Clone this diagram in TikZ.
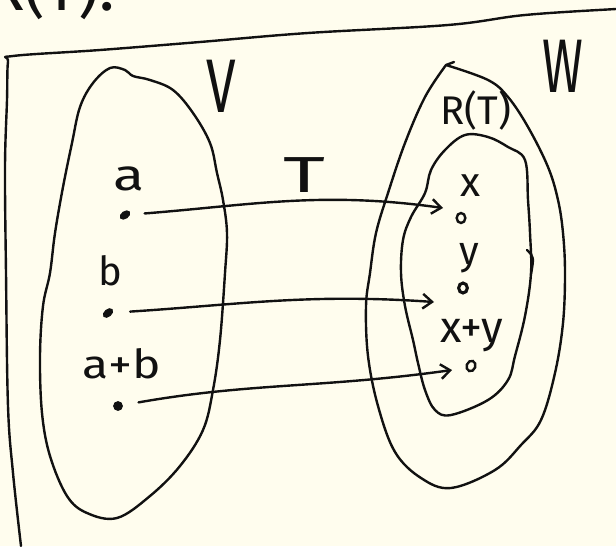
\documentclass[tikz,border=0pt]{standalone}
\usepackage{fontspec}
\newfontfamily\hand{Fira Sans}
\usetikzlibrary{arrows.meta,shapes.geometric}
\definecolor{paper}{RGB}{255,253,238}
\definecolor{ink}{RGB}{17,17,17}
\tikzset{
  pen/.style={draw=ink, line width=1.8pt, line cap=round, line join=round},
  lbl/.style={text=ink, inner sep=0pt},
  dotf/.style={ellipse, fill=ink, draw=ink, line width=0.8pt, inner sep=0pt},
  doto/.style={ellipse, draw=ink, line width=1.8pt, inner sep=0pt},
  map/.style={pen, -{Straight Barb[length=7pt,width=11pt]}},
}
\newcommand{\fs}[1]{\hand\fontsize{#1}{#1}\selectfont}
\begin{document}
\begin{tikzpicture}[x=0.75pt,y=-0.75pt]
\path[use as bounding box] (0,0) rectangle (616,546);
\clip (0,0) rectangle (616,546);
\fill[paper] (0,0) rectangle (616,546);

% heading left over from the line above the box
\node[lbl, anchor=base west, font=\fs{48}] (head) at (-14,10) {R(T).};

% box around the sketch
\draw[pen] plot[smooth, tension=0.6] coordinates {(21,546) (13,473) (8,406) (6,273) (5,167) (7,100) (8,62) (13,56) (100,50) (200,42) (308,33) (448,25) (525,15) (616,9) (640,8)};

% domain V
\draw[pen] plot[smooth cycle, tension=0.6] coordinates {(110,68) (125,70) (133,76) (150,80) (173,90) (193,113) (210,143) (217,173) (223,200) (227,233) (225,273) (220,340) (213,390) (203,430) (180,466) (150,496) (117,518) (87,513) (67,496) (50,456) (42,413) (40,356) (43,306) (50,273) (55,233) (63,187) (72,143) (80,107) (93,83)};

% codomain W
\draw[pen] plot[smooth, tension=0.6] coordinates {(446,65) (488,80) (508,97) (528,127) (548,167) (558,200) (563,233) (565,273) (563,323) (555,373) (541,420) (521,445) (495,470) (451,488) (421,478) (395,452) (378,406) (368,356) (366,306) (370,273) (376,233) (388,193) (405,143) (425,97) (446,65)};
\draw[pen] (446,65) -- (454,62);

% range R(T)
\draw[pen] plot[smooth cycle, tension=0.6] coordinates {(465,135) (488,137) (508,147) (525,160) (528,200) (530,233) (531,273) (525,316) (515,356) (508,380) (488,400) (451,415) (435,410) (425,390) (418,363) (413,340) (405,306) (401,273) (403,240) (411,217) (425,193) (431,170) (445,150)};
\draw[pen] (527,250) .. controls (534,257) .. (531,274);

% labels
\node[lbl, font=\fs{57}, xscale=0.7] (lV) at (221,86) {V};
\node[lbl, font=\fs{57}, xscale=0.65] (lW) at (563,66) {W};
\node[lbl, font=\fs{38}, xscale=1.6] (lT) at (304,175) {T};
\node[lbl, font=\fs{30}] (lR) at (476,110) {R(T)};
\node[lbl, font=\fs{33}, xscale=1.3] (la) at (129,179) {a};
\node[lbl, font=\fs{30}] (lb) at (110,271) {b};
\node[lbl, font=\fs{30}, xscale=1.2] (lab) at (122,364) {a+b};
\node[lbl, font=\fs{31}] (lx) at (471,186) {x};
\node[lbl, font=\fs{30}] (ly) at (469,258) {y};
\node[lbl, font=\fs{33}] (lxy) at (472,336) {x+y};

% vectors
\node[dotf, minimum width=8pt, minimum height=5pt, rotate=35] (da) at (125,215) {};
\node[dotf, minimum width=8pt, minimum height=5pt, rotate=40] (db) at (108,313) {};
\node[dotf, minimum width=6.5pt, minimum height=6.5pt] (dab) at (118,406) {};
\node[doto, minimum width=6.5pt, minimum height=7.5pt] (dx) at (461,218) {};
\node[doto, line width=2.3pt, minimum width=6.5pt, minimum height=7.5pt] (dy) at (463,288) {};
\node[doto, minimum width=6.5pt, minimum height=8pt, rotate=-20] (dxy) at (471,366) {};

% images under T
\coordinate (tx) at (443,208);
\coordinate (ty) at (434,302);
\coordinate (txy) at (452,370);
\draw[map, shorten <=11pt] (da) to[out=3, in=172] (tx);
\draw[map, shorten <=13pt] (db) to[out=2, in=176] (ty);
\draw[map, shorten <=12pt] (dab) to[out=10, in=188] (txy);
\end{tikzpicture}
\end{document}
